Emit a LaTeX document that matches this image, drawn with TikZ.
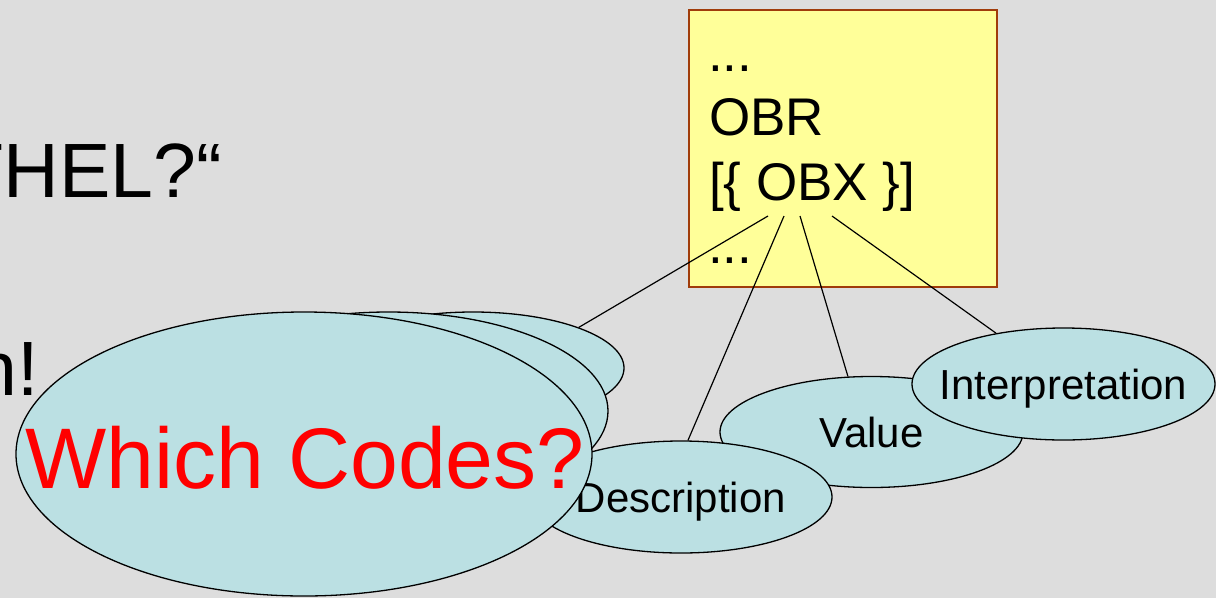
\documentclass[tikz,border=0pt]{standalone}
\usepackage{fontspec}
\setmainfont{Liberation Sans}
\usetikzlibrary{shapes.geometric}
\definecolor{bg}{RGB}{221,221,221}
\definecolor{cell}{RGB}{187,224,227}
\definecolor{note}{RGB}{255,255,153}
\definecolor{noteborder}{RGB}{160,60,10}
\begin{document}
\begin{tikzpicture}[x=1pt,y=-1pt,
  oval/.style={ellipse, draw=black, line width=1.3pt, fill=cell, inner sep=0pt},
  ovaltext/.style={inner sep=0pt, text depth=0pt, font=\fontsize{42}{50}\selectfont},
  conn/.style={draw=black, line width=1.2pt},
  boxtext/.style={anchor=base west, inner sep=0pt, font=\fontsize{53}{64}\selectfont},
  bigtext/.style={anchor=base east, inner sep=0pt, font=\fontsize{77}{90}\selectfont}]
\useasboundingbox (0,0) rectangle (1216,598);
\fill[bg] (0,0) rectangle (1216,598);
\clip (0,0) rectangle (1216,598);
% left slide text (cut off)
\node[bigtext] (q) at (222,197) {THEL?“};
\node[bigtext] (n) at (39,395) {n!};
% yellow note box
\node[draw=noteborder, fill=note, line width=1.5pt, minimum width=308pt,
  minimum height=277pt, inner sep=0pt, anchor=north west] (box) at (688,9) {};
\node[boxtext] (l1) at (708,71) {...};
\node[boxtext] (l2) at (709,135) {OBR};
\node[boxtext] (l3) at (709,200) {[\{ OBX \}]};
\node[boxtext] (l4) at (708,263) {...};
\coordinate (s1) at (768,216);
\coordinate (s2) at (784,216);
\coordinate (s3) at (800,216);
\coordinate (s4) at (832,216);
% ellipses
\node[oval, minimum width=302pt, minimum height=112pt] (back) at (473,368) {};
\node[oval, minimum width=439pt, minimum height=198pt] (mid) at (388.5,411) {};
\node[oval, minimum width=303pt, minimum height=111pt] (val) at (871.5,432) {};
\node[ovaltext] (valT) at (val.center) {Value};
\node[oval, minimum width=303pt, minimum height=112pt] (interp) at (1063.5,384) {};
\node[ovaltext] (interpT) at (interp.center) {Interpretation};
\node[oval, minimum width=302pt, minimum height=112pt] (desc) at (681,497) {};
\node[ovaltext] (descT) at (desc.center) {Description};
\node[oval, minimum width=576pt, minimum height=284pt] (big) at (304,454) {};
\node[anchor=base, inner sep=0pt, text=red, font=\fontsize{86}{100}\selectfont] (which) at (305,488) {Which Codes?};
% connectors
\draw[conn] (s1) -- (back.21);
\draw[conn] (s2) -- (desc.83);
\draw[conn] (s3) -- (val.113);
\draw[conn] (s4) -- (interp.143);
\end{tikzpicture}
\end{document}
